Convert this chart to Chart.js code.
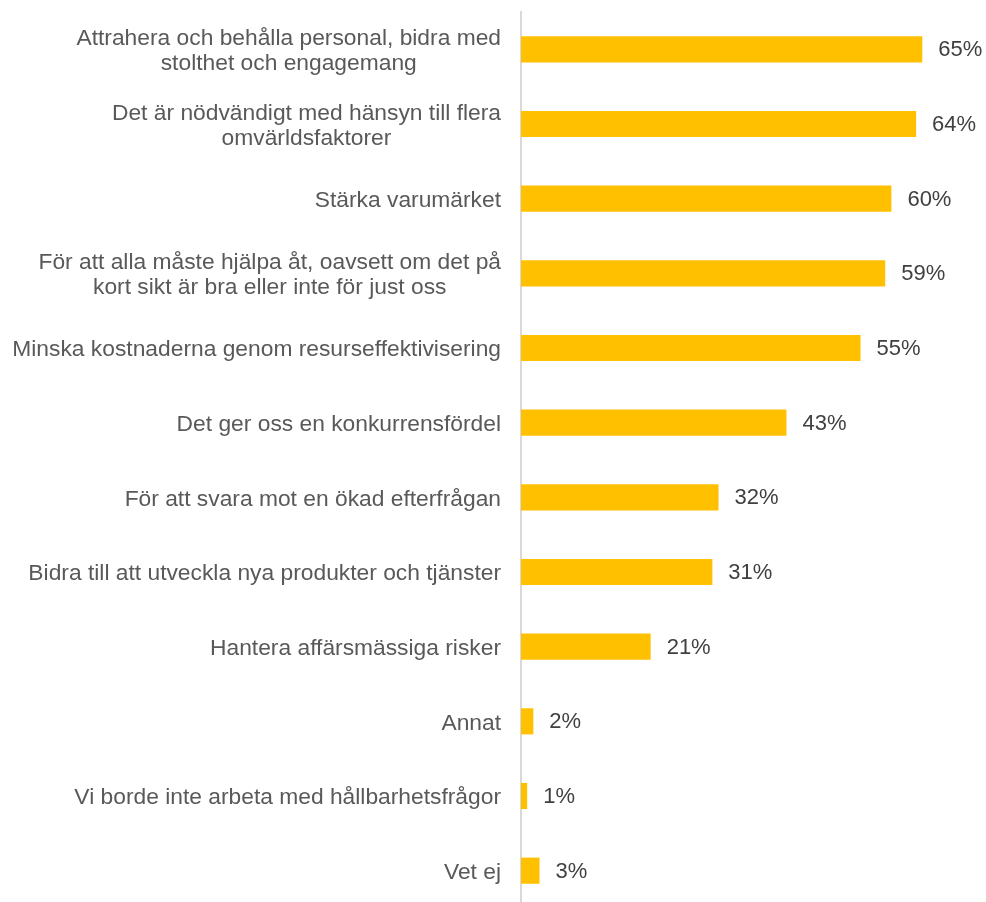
<!DOCTYPE html>
<html>
<head>
<meta charset="utf-8">
<script src="https://cdn.jsdelivr.net/npm/chart.js@4"></script>
<style>
  html, body { margin: 0; padding: 0; background: #fff; overflow: hidden; }
  #wrap { width: 986px; height: 908px; }
</style>
</head>
<body>
<div id="wrap"><canvas id="chart"></canvas></div>
<script>
const categories = [
  ["Attrahera och behålla personal, bidra med", "stolthet och engagemang"],
  ["Det är nödvändigt med hänsyn till flera", "omvärldsfaktorer"],
  "Stärka varumärket",
  ["För att alla måste hjälpa åt, oavsett om det på", "kort sikt är bra eller inte för just oss"],
  "Minska kostnaderna genom resurseffektivisering",
  "Det ger oss en konkurrensfördel",
  "För att svara mot en ökad efterfrågan",
  "Bidra till att utveckla nya produkter och tjänster",
  "Hantera affärsmässiga risker",
  "Annat",
  "Vi borde inte arbeta med hållbarhetsfrågor",
  "Vet ej"
];
const values = [65, 64, 60, 59, 55, 43, 32, 31, 21, 2, 1, 3];

const labelFont = "22.8px 'Liberation Sans'";

// percent labels after each bar
const valueLabels = {
  id: "valueLabels",
  afterDatasetsDraw(chart) {
    const ctx = chart.ctx;
    const meta = chart.getDatasetMeta(0);
    ctx.save();
    ctx.font = "22px 'Liberation Sans'";
    ctx.fillStyle = "#404040";
    ctx.textAlign = "left";
    ctx.textBaseline = "middle";
    meta.data.forEach((bar, i) => {
      ctx.fillText(values[i] + "%", bar.x + 16, bar.y + 1);
    });
    ctx.restore();
  }
};

// category labels: block right-aligned to the axis, lines centred inside it
const categoryLabels = {
  id: "categoryLabels",
  afterDraw(chart) {
    const ctx = chart.ctx;
    const yScale = chart.scales.y;
    const right = yScale.right - 20;
    const lineH = 25;
    ctx.save();
    ctx.font = labelFont;
    ctx.fillStyle = "#595959";
    ctx.textAlign = "center";
    ctx.textBaseline = "middle";
    categories.forEach((lab, i) => {
      const lines = Array.isArray(lab) ? lab : [lab];
      const w = Math.max(...lines.map(l => ctx.measureText(l).width));
      const cx = right - w / 2;
      const cy = yScale.getPixelForTick(i) + 2;
      lines.forEach((l, j) => {
        ctx.fillText(l, cx, cy + (j - (lines.length - 1) / 2) * lineH);
      });
    });
    ctx.restore();
  }
};

new Chart(document.getElementById("chart"), {
  type: "bar",
  data: {
    labels: categories,
    datasets: [{
      data: values,
      backgroundColor: "#FFC000",
      barPercentage: 0.35,
      categoryPercentage: 1.0
    }]
  },
  options: {
    indexAxis: "y",
    responsive: true,
    maintainAspectRatio: false,
    animation: false,
    layout: { padding: { top: 12, right: 2, left: 10, bottom: 0 } },
    plugins: { legend: { display: false }, tooltip: { enabled: false } },
    scales: {
      x: {
        min: 0, max: 75,
        display: false
      },
      y: {
        grid: { display: false, drawTicks: false },
        border: { display: true, color: "#D9D9D9", width: 2 },
        ticks: { display: false },
        afterFit(scale) {
          scale.width = 511;
          scale.paddingTop = 0;
          scale.paddingBottom = 0;
        }
      }
    }
  },
  plugins: [valueLabels, categoryLabels]
});
</script>
</body>
</html>
